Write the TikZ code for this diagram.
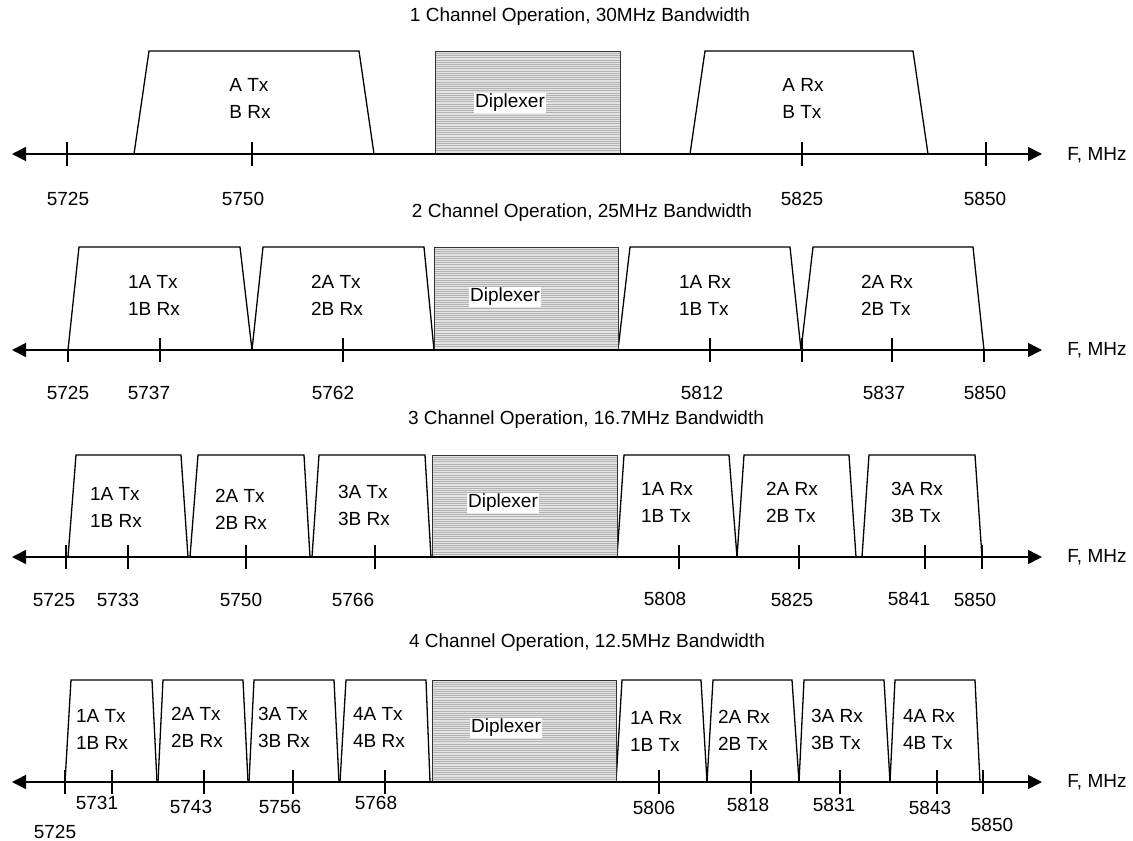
\documentclass[tikz,border=0pt]{standalone}
\usepackage{fontspec}
\setmainfont{Liberation Sans}
\usetikzlibrary{arrows.meta}
\definecolor{dipfillc}{RGB}{228,228,228}
\definecolor{hatchc}{RGB}{178,178,178}
\newcommand\trap[6]{\draw[band] (#1,#5) -- (#2,#6) -- (#3,#6) -- (#4,#5);}
\newcommand\tkfull[2]{\draw[tickmark] (#1,#2-12) -- (#1,#2+12);}
\newcommand\tkbelow[2]{\draw[tickmark] (#1,#2) -- (#1,#2+12);}
\newcommand\dipbox[6]{%
  \fill[dipfillc] (#1,#3) rectangle (#2,#4);
  \pgfmathtruncatemacro\dipn{floor((#4-#3)/2.2)-1}
  \foreach \k in {1,...,\dipn} \draw[hatch] (#1,#3+\k*2.2) -- (#2,#3+\k*2.2);
  \draw[dipborder] (#1,#3) rectangle (#2,#4);
  \node[diplabel] (#6) at (#5) {Diplexer};
}
\begin{document}
\begin{tikzpicture}[x=1pt,y=-1pt,
  lbl/.style={font=\fontsize{19}{27}\selectfont, align=left, inner sep=0pt},
  num/.style={font=\fontsize{19}{21}\selectfont, inner sep=0pt},
  ttl/.style={font=\fontsize{19}{21}\selectfont, inner sep=0pt},
  diplabel/.style={font=\fontsize{19}{21}\selectfont, fill=white, inner sep=1.5pt},
  axisline/.style={line width=1.6pt, {Triangle[length=14pt,width=14pt]}-{Triangle[length=14pt,width=14pt]}},
  band/.style={line width=1.3pt, line join=miter},
  tickmark/.style={line width=1.2pt},
  hatch/.style={line width=0.5pt, draw=hatchc},
  dipborder/.style={line width=0.8pt, draw=black!80}]
\useasboundingbox (0,0) rectangle (1133,841);

% ---------- Panel 1 ----------
\node[ttl] (t1) at (580,17) {1 Channel Operation, 30MHz Bandwidth};
\trap{134}{149}{359}{374}{154}{51}
\trap{690}{705}{913}{928}{154}{51}
\dipbox{435}{620}{51}{154}{510,103}{d1}
\coordinate (L1) at (12,154);
\coordinate (R1) at (1042,154);
\draw[axisline] (L1) -- (R1);
\node[num] (f1) at (1097,155) {F, MHz};
\tkfull{67}{154}\tkfull{252}{154}\tkfull{802}{154}\tkfull{986}{154}
\node[num] (n1a) at (68,199) {5725};
\node[num] (n1b) at (243,199) {5750};
\node[num] (n1c) at (802,199) {5825};
\node[num] (n1d) at (985,199) {5850};
\node[lbl] (c1a) at (250,98) {A Tx\\B Rx};
\node[lbl] (c1b) at (803,98) {A Rx\\B Tx};

% ---------- Panel 2 ----------
\node[ttl] (t2) at (582,213) {2 Channel Operation, 25MHz Bandwidth};
\trap{68}{79}{240}{252}{350}{247}
\trap{252}{263}{424}{434}{350}{247}
\trap{618}{630}{790}{801}{350}{247}
\trap{801}{813}{973}{984}{350}{247}
\dipbox{434}{618}{247}{350}{505,297}{d2}
\coordinate (L2) at (12,350);
\coordinate (R2) at (1042,350);
\draw[axisline] (L2) -- (R2);
\node[num] (f2) at (1097,350) {F, MHz};
\tkbelow{68}{350}\tkbelow{984}{350}
\tkfull{160}{350}\tkfull{343}{350}\tkfull{802}{350}\tkfull{710}{350}\tkfull{892}{350}
\node[num] (n2a) at (68,393) {5725};
\node[num] (n2b) at (149,393) {5737};
\node[num] (n2c) at (333,393) {5762};
\node[num] (n2d) at (702,393) {5812};
\node[num] (n2e) at (884,393) {5837};
\node[num] (n2f) at (985,393) {5850};
\node[lbl] (c2a) at (154,295) {1A Tx\\1B Rx};
\node[lbl] (c2b) at (337,295) {2A Tx\\2B Rx};
\node[lbl] (c2c) at (705,295) {1A Rx\\1B Tx};
\node[lbl] (c2d) at (887,295) {2A Rx\\2B Tx};

% ---------- Panel 3 ----------
\node[ttl] (t3) at (586,420) {3 Channel Operation, 16.7MHz Bandwidth};
\trap{68}{76}{181}{188}{557}{455}
\trap{190}{198}{304}{310}{557}{455}
\trap{312}{319}{425}{431}{557}{455}
\trap{617}{624}{729}{737}{557}{455}
\trap{737}{744}{849}{856}{557}{455}
\trap{862}{869}{975}{982}{557}{455}
\dipbox{432}{617}{455}{557}{503,503}{d3}
\coordinate (L3) at (12,557);
\coordinate (R3) at (1042,557);
\draw[axisline] (L3) -- (R3);
\node[num] (f3) at (1097,557) {F, MHz};
\tkfull{66}{557}\tkfull{128}{557}\tkfull{246}{557}\tkfull{375}{557}
\tkfull{679}{557}\tkfull{799}{557}\tkfull{925}{557}\tkfull{982}{557}
\node[num] (n3a) at (54,600) {5725};
\node[num] (n3b) at (118,600) {5733};
\node[num] (n3c) at (241,600) {5750};
\node[num] (n3d) at (353,600) {5766};
\node[num] (n3e) at (665,599) {5808};
\node[num] (n3f) at (792,600) {5825};
\node[num] (n3g) at (909,599) {5841};
\node[num] (n3h) at (975,600) {5850};
\node[lbl] (c3a) at (116,507) {1A Tx\\1B Rx};
\node[lbl] (c3b) at (241,509) {2A Tx\\2B Rx};
\node[lbl] (c3c) at (364,505) {3A Tx\\3B Rx};
\node[lbl] (c3d) at (667,502) {1A Rx\\1B Tx};
\node[lbl] (c3e) at (792,502) {2A Rx\\2B Tx};
\node[lbl] (c3f) at (917,502) {3A Rx\\3B Tx};

% ---------- Panel 4 ----------
\node[ttl] (t4) at (587,643) {4 Channel Operation, 12.5MHz Bandwidth};
\trap{65}{71}{152}{157}{782}{680}
\trap{158}{163}{243}{248}{782}{680}
\trap{249}{254}{334}{339}{782}{680}
\trap{340}{346}{426}{430}{782}{680}
\trap{616}{622}{701}{707}{782}{680}
\trap{707}{713}{792}{799}{782}{680}
\trap{799}{804}{884}{890}{782}{680}
\trap{890}{895}{975}{980}{782}{680}
\dipbox{432}{616}{680}{782}{506,728}{d4}
\coordinate (L4) at (12,782);
\coordinate (R4) at (1042,782);
\draw[axisline] (L4) -- (R4);
\node[num] (f4) at (1097,782) {F, MHz};
\tkfull{65}{782}\tkfull{112}{782}\tkfull{204}{782}\tkfull{293}{782}\tkfull{385}{782}
\tkfull{659}{782}\tkfull{751}{782}\tkfull{840}{782}\tkfull{937}{782}\tkfull{983}{782}
\node[num] (n4a) at (55,832) {5725};
\node[num] (n4b) at (97,803) {5731};
\node[num] (n4c) at (191,807) {5743};
\node[num] (n4d) at (280,807) {5756};
\node[num] (n4e) at (376,803) {5768};
\node[num] (n4f) at (654,808) {5806};
\node[num] (n4g) at (748,805) {5818};
\node[num] (n4h) at (834,805) {5831};
\node[num] (n4i) at (930,808) {5843};
\node[num] (n4j) at (992,825) {5850};
\node[lbl] (c4a) at (102,729) {1A Tx\\1B Rx};
\node[lbl] (c4b) at (197,727) {2A Tx\\2B Rx};
\node[lbl] (c4c) at (284,727) {3A Tx\\3B Rx};
\node[lbl] (c4d) at (379,727) {4A Tx\\4B Rx};
\node[lbl] (c4e) at (656,731) {1A Rx\\1B Tx};
\node[lbl] (c4f) at (744,730) {2A Rx\\2B Tx};
\node[lbl] (c4g) at (837,729) {3A Rx\\3B Tx};
\node[lbl] (c4h) at (929,729) {4A Rx\\4B Tx};
\end{tikzpicture}
\end{document}
